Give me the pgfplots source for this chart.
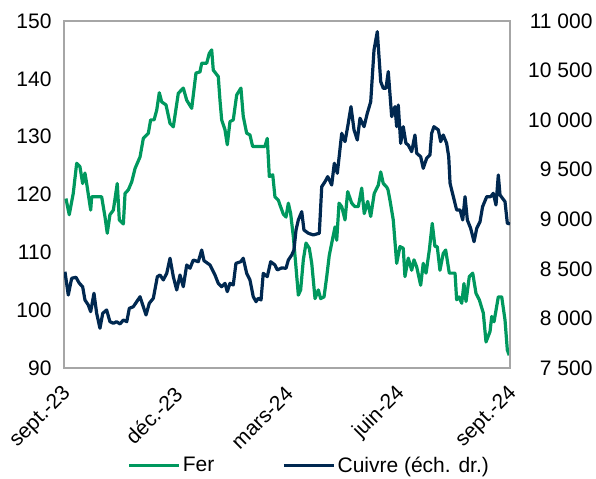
\documentclass[border=0pt]{standalone}
\usepackage{pgfplots}
\pgfplotsset{compat=1.18}
\usepackage{fontspec}
\setmainfont{Liberation Sans}
\usetikzlibrary{calc}
\definecolor{fer}{RGB}{0,152,94}
\definecolor{cuivre}{RGB}{0,40,80}
\definecolor{framec}{RGB}{166,166,166}
\begin{document}
\begin{tikzpicture}[font=\fontsize{21}{25}\selectfont]
\begin{axis}[
  name=ax1,
  scale only axis, width=446pt, height=347pt,
  xmin=0, xmax=366, ymin=90, ymax=150,
  xtick={0,91,182,274,366},
  xticklabels={sept.-23,déc.-23,mars-24,juin-24,sept.-24},
  ytick={90,100,...,150},
  major tick length=0pt,
  axis line style={framec, line width=1.2pt},
  /pgf/number format/assume math mode=true,
  xticklabel style={xshift=6pt, yshift=-20pt, rotate=45, anchor=east},
  yticklabel style={xshift=-9pt},
  legend style={at={(0.55,-0.28)}, anchor=center, draw=none, fill=none,
    legend columns=2, /tikz/every even column/.append style={column sep=66pt},
    font=\fontsize{21}{25}\selectfont, inner sep=0pt},
  legend image code/.code={\draw[#1] (0pt,0pt) -- (50pt,0pt);},
]
\addplot[fer, line width=3.2pt, line join=round] coordinates {
(1.6,119.3)(4.3,116.5)(7.6,120.2)(10.4,125.4)(13.1,124.8)(15.3,121.9)(17.2,123.7)(18.6,121.9)(21.9,117.3)(22.7,119.6)(30.9,119.6)(33.6,116.2)(35.5,113.3)(37.7,116.5)(40.5,117.3)(43.7,121.9)(45.4,115.6)(48.7,114.9)(50.1,120.2)(52.8,120.8)(55.6,122.2)(58.3,124.5)(62.4,126.5)(65.1,129.7)(69.2,130.6)(71.1,132.9)(73.9,132.9)(76.1,134.6)(78.2,137.6)(80.2,136.0)(83.7,135.5)(87.0,132.3)(89.7,131.7)(93.8,137.5)(97.9,138.4)(100.7,136.3)(104.8,134.9)(108.3,141.0)(111.6,141.2)(113.0,142.7)(117.1,142.7)(119.2,144.4)(121.2,145.0)(122.5,141.5)(126.6,140.4)(128.0,136.3)(129.4,132.9)(132.1,131.2)(134.0,128.6)(136.2,132.6)(138.9,132.9)(141.7,137.2)(145.2,138.4)(147.1,133.5)(149.9,130.6)(152.6,130.3)(154.8,128.3)(164.9,128.3)(166.8,129.7)(168.5,123.1)(171.3,123.4)(173.1,119.6)(175.9,119.0)(177.2,118.2)(180.0,116.6)(182.2,116.1)(184.1,118.5)(186.0,116.7)(188.2,112.7)(190.1,108.1)(192.3,102.6)(194.2,103.5)(196.4,108.7)(198.6,111.6)(201.3,110.7)(203.3,108.1)(206.0,102.0)(208.7,103.5)(210.6,102.0)(213.4,102.3)(215.6,105.8)(217.7,109.5)(220.2,112.1)(222.4,114.4)(223.8,112.1)(225.7,118.5)(227.9,117.9)(230.6,115.6)(232.8,120.5)(236.1,118.5)(238.8,117.9)(241.5,117.9)(244.3,121.1)(246.4,116.7)(249.2,118.8)(251.7,116.2)(254.6,120.2)(257.9,121.6)(259.9,123.9)(262.0,121.9)(264.8,121.3)(265.9,120.8)(267.5,119.0)(270.2,115.6)(273.0,108.1)(275.7,111.0)(278.4,110.7)(279.8,105.8)(282.5,109.0)(285.3,106.9)(287.2,108.7)(289.4,107.5)(292.7,104.3)(294.8,108.1)(297.1,106.4)(299.8,110.4)(302.2,115.0)(304.4,111.0)(306.3,111.0)(308.5,106.9)(311.2,109.8)(313.2,110.4)(316.2,106.4)(320.9,106.4)(322.2,101.8)(324.1,102.3)(326.4,101.2)(328.2,104.6)(329.9,101.5)(332.6,105.8)(335.4,106.4)(338.1,102.9)(340.8,101.8)(344.1,99.5)(346.3,94.5)(349.6,96.3)(351.0,98.9)(352.9,98.0)(356.4,102.3)(359.2,102.3)(361.9,98.3)(363.8,93.1)(365.4,92.2)
};
\addlegendentry{Fer}
\addlegendimage{cuivre, line width=3.2pt}
\addlegendentry{Cuivre (éch. dr.)}
\end{axis}
\begin{axis}[
  scale only axis, width=446pt, height=347pt,
  xmin=0, xmax=366, ymin=7500, ymax=11000,
  axis x line=none, axis y line*=right,
  ytick={7500,8000,...,11000},
  major tick length=0pt,
  axis line style={framec, line width=1.2pt},
  scaled y ticks=false,
  /pgf/number format/.cd, assume math mode=true, 1000 sep={~},
  /pgfplots/.cd,
  yticklabel style={anchor=east, xshift=86pt},
]
\addplot[cuivre, line width=3.2pt, line join=round] coordinates {
(0.8,8471)(3.5,8236)(6.3,8405)(9.8,8415)(12.6,8354)(15.3,8320)(17.2,8186)(19.9,8136)(21.9,8068)(24.6,8254)(26.8,8052)(29.5,7901)(31.8,8052)(35.0,8085)(37.7,7967)(40.5,7951)(43.2,7967)(46.0,7944)(48.7,7984)(51.5,7967)(53.6,8102)(56.9,8118)(62.4,8219)(67.3,8035)(70.0,8153)(73.3,8203)(76.6,8421)(78.8,8438)(81.5,8388)(84.3,8455)(87.0,8607)(89.7,8421)(92.5,8287)(95.2,8438)(97.9,8320)(100.7,8539)(103.4,8506)(106.1,8589)(110.2,8572)(113.0,8690)(114.9,8582)(119.8,8539)(123.9,8438)(126.6,8354)(129.4,8320)(132.1,8354)(134.0,8270)(136.2,8354)(138.9,8337)(141.1,8556)(145.0,8572)(147.1,8607)(149.9,8455)(152.6,8388)(155.3,8219)(157.6,8169)(159.4,8203)(161.7,8186)(163.5,8455)(166.8,8421)(169.6,8572)(173.1,8539)(175.0,8489)(178.6,8509)(182.2,8506)(184.1,8589)(186.9,8640)(188.7,8690)(190.4,8892)(192.3,8993)(195.1,9077)(196.9,8892)(200.5,8859)(204.6,8842)(209.5,8859)(211.5,9329)(214.2,9379)(216.4,9430)(219.7,9346)(221.8,9565)(224.3,9464)(227.9,9867)(230.6,9783)(232.8,9934)(235.5,10136)(238.0,9901)(240.7,9800)(242.9,10019)(246.2,9934)(248.9,10069)(251.7,10186)(254.4,10708)(257.1,10892)(259.9,10388)(262.0,10321)(264.2,10321)(266.1,10489)(268.9,10035)(271.6,10136)(273.0,9934)(274.3,10153)(276.3,9766)(278.4,9934)(280.6,9766)(282.5,9749)(285.3,9682)(288.0,9850)(289.4,9666)(292.7,9631)(294.8,9514)(297.6,9615)(300.3,9648)(301.7,9867)(303.6,9934)(307.2,9901)(309.1,9783)(311.2,9850)(314.0,9766)(315.7,9631)(316.8,9363)(319.5,9228)(322.2,9094)(325.0,9094)(327.2,8993)(329.1,9228)(331.0,8993)(333.7,8909)(336.5,8774)(338.7,8909)(341.4,8976)(343.5,9127)(346.9,9228)(350.1,9228)(352.3,9262)(354.5,9144)(356.4,9447)(357.8,9245)(361.9,9178)(363.8,8960)(366,8953)
};
\end{axis}
\pgfresetboundingbox
\path[use as bounding box] ($(ax1.south west)+(-64pt,-111pt)$) rectangle ($(ax1.north east)+(86pt,21pt)$);
\end{tikzpicture}
\end{document}
